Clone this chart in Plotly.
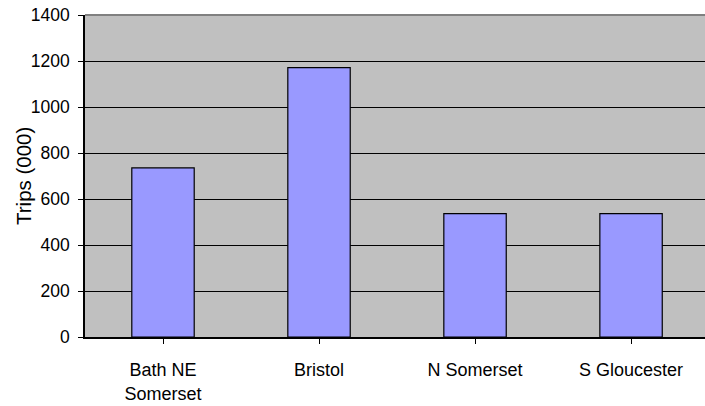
import plotly.graph_objects as go

# Trips per unitary authority (thousands)
areas = ["Bath NE<br>Somerset", "Bristol", "N Somerset", "S Gloucester"]
trips = [735, 1171, 536, 536]
y_ticks = [0, 200, 400, 600, 800, 1000, 1200, 1400]

FONT = "Liberation Sans, Arial, sans-serif"

fig = go.Figure(
    go.Bar(
        x=list(range(len(areas))),
        y=trips,
        width=0.4,
        marker=dict(color="#9999FF", line=dict(color="#000000", width=1.2)),
        hoverinfo="skip",
    )
)

fig.update_layout(
    width=705,
    height=406,
    margin=dict(l=85, r=0, t=15, b=69),
    paper_bgcolor="#FFFFFF",
    plot_bgcolor="#C0C0C0",
    showlegend=False,
    font=dict(family=FONT, color="#000000", size=17),
)

fig.update_xaxes(
    tickmode="array",
    tickvals=list(range(len(areas))),
    ticktext=areas,
    range=[-0.5, 3.474],
    tickson="boundaries",
    ticks="outside",
    ticklen=5,
    tickwidth=1.2,
    tickcolor="#000000",
    ticklabelstandoff=11,
    tickfont=dict(size=18),
    showline=True,
    linecolor="#000000",
    linewidth=1.5,
    showgrid=False,
    zeroline=False,
)

fig.update_yaxes(
    range=[0, 1400],
    tickmode="array",
    tickvals=y_ticks,
    ticktext=[str(v) for v in y_ticks],
    ticks="outside",
    ticklen=5,
    tickwidth=1.2,
    tickcolor="#000000",
    ticklabelstandoff=5,
    tickfont=dict(size=17.5),
    showline=True,
    linecolor="#000000",
    linewidth=1.5,
    showgrid=True,
    gridcolor="#000000",
    gridwidth=1,
    zeroline=False,
)

# Vertical axis title
fig.add_annotation(
    text="Trips (000)",
    xref="paper", yref="paper",
    x=(23 - 85) / 620, y=0.5,
    xanchor="center", yanchor="middle",
    textangle=-90,
    showarrow=False,
    font=dict(size=20.5),
)

# Plot-area frame along the top edge
fig.add_shape(
    type="line", xref="paper", yref="paper",
    x0=0, x1=1, y0=1, y1=1,
    line=dict(color="#808080", width=2),
)

fig.write_html("out.html")
